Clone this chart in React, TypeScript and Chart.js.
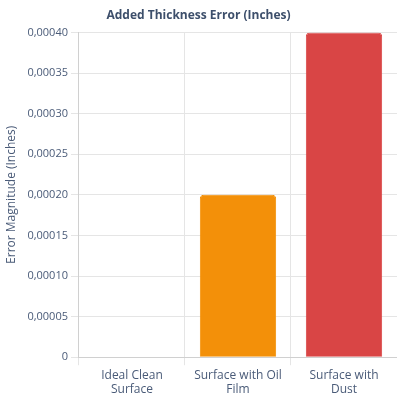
import React, { useEffect, useRef } from "react";
import { Chart, registerables } from "chart.js";

Chart.register(...registerables);

const categories: string[][] = [
  ["Ideal Clean", "Surface"],
  ["Surface with Oil", "Film"],
  ["Surface with", "Dust"],
];
const errorValues: number[] = [0, 0.0002, 0.0004];
const barColors: string[] = ["#3a7bd5", "#f39009", "#d94545"];
const chartTitle = "Added Thickness Error (Inches)";
const yAxisTitle = "Error Magnitude (Inches)";

const fmt = new Intl.NumberFormat("de-DE", {
  minimumFractionDigits: 5,
  maximumFractionDigits: 5,
});

export default function App() {
  const ref = useRef<HTMLCanvasElement | null>(null);
  useEffect(() => {
    document.body.style.margin = "0";
    const ctx = ref.current!;
    const textColor = "#4a5b78";
    const chart = new Chart(ctx, {
      type: "bar",
      data: {
        labels: categories,
        datasets: [
          {
            data: errorValues,
            backgroundColor: barColors,
            borderColor: barColors,
            borderWidth: 1,
            borderRadius: 4,
            borderSkipped: "bottom",
          },
        ],
      },
      options: {
        animation: false,
        responsive: false,
        maintainAspectRatio: false,
        layout: { padding: { left: 0, right: 0, top: 0, bottom: 0 } },
        plugins: {
          legend: { display: false },
          tooltip: { enabled: false },
          title: {
            display: true,
            text: chartTitle,
            color: "#3d4f6b",
            font: { family: "'Open Sans'", size: 12, weight: "bold" },
            padding: { top: 8, bottom: 10 },
          },
        },
        scales: {
          x: {
            grid: { color: "#e5e5e5" },
            border: { color: "#d0d0d0" },
            ticks: {
              color: textColor,
              font: { family: "'Open Sans'", size: 12 },
              maxRotation: 0,
            },
          },
          y: {
            min: 0,
            max: 0.0004,
            grid: { color: "#e5e5e5" },
            border: { color: "#d0d0d0" },
            ticks: {
              stepSize: 0.00005,
              color: textColor,
              font: { family: "'Open Sans'", size: 11 },
              callback: (v: any) => (Number(v) === 0 ? "0" : fmt.format(Number(v))),
            },
            title: {
              display: true,
              text: yAxisTitle,
              color: textColor,
              font: { family: "'Open Sans'", size: 12 },
              padding: { top: 4, bottom: 6 },
            },
          },
        },
      },
    });
    return () => chart.destroy();
  }, []);
  return <canvas ref={ref} width={397} height={400} style={{ display: "block" }} />;
}
